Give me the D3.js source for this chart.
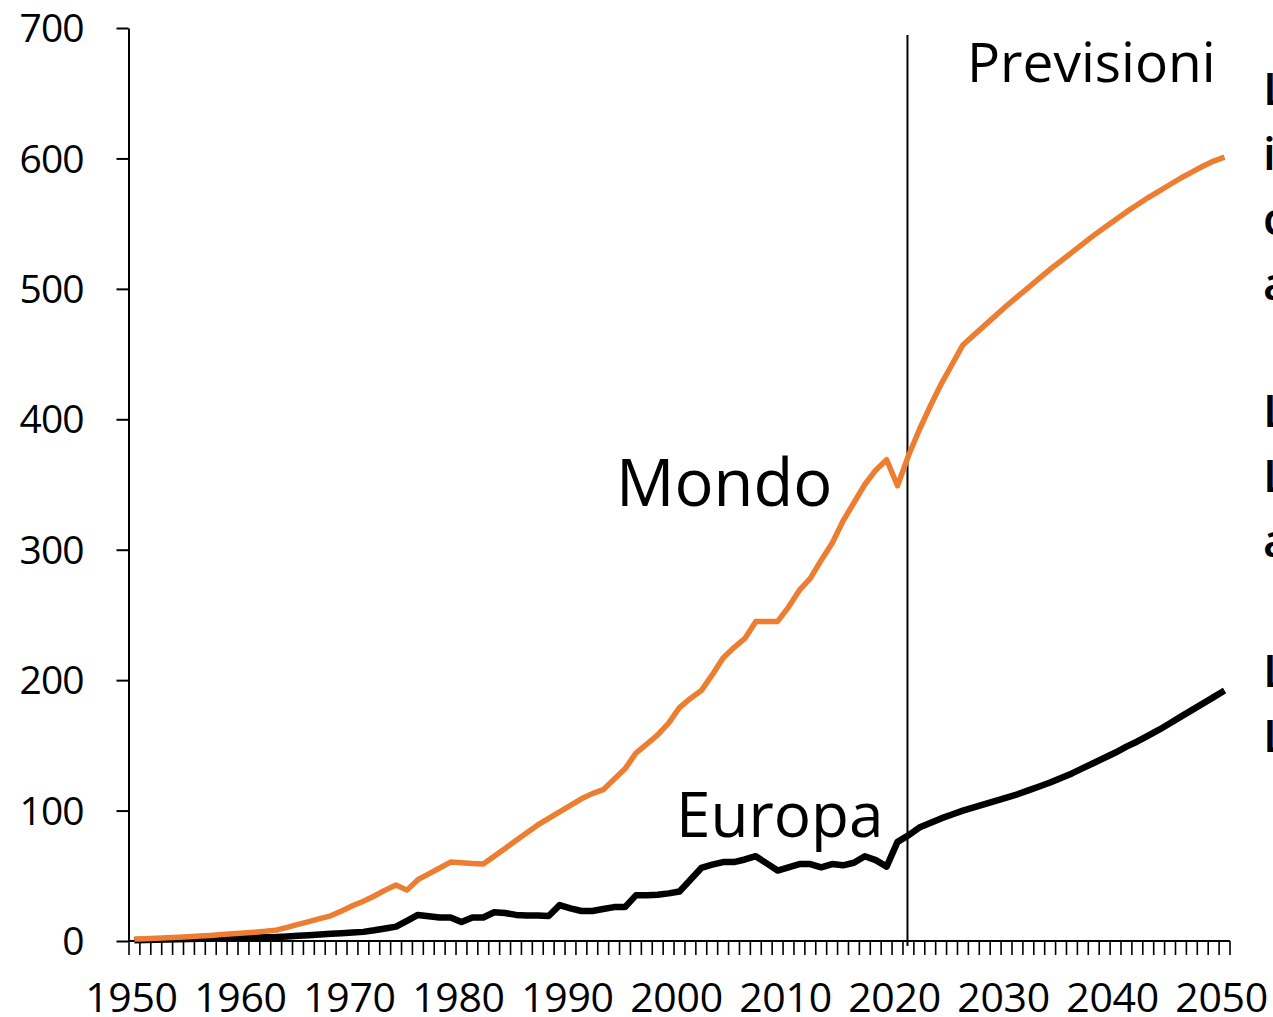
<!DOCTYPE html>
<meta charset="utf-8">
<head>
<style type="text/css">
  body { margin: 0; background: #fff; }
  svg { display: block; font-family: "Open Sans", sans-serif; }
  .axis line, .axis path { stroke: #000; }
</style>
</head>
<body>
<div id="vis"></div>
<script src="https://d3js.org/d3.v7.min.js"></script>
<script>
// data
var years = d3.range(1950, 2051);
var mondo = [
  1.5, 1.8, 2.1, 2.5, 2.9, 3.3, 3.8, 4.3, 4.9, 5.5,
  6.1, 6.7, 7.4, 8.3, 10.5, 12.7, 14.9, 17.1, 19.3, 23,
  27, 30.5, 34.5, 39, 43, 39, 47, 51.5, 56, 60.5,
  60, 59.5, 59, 65, 71, 77, 83, 89, 94, 99,
  104, 109, 113, 116, 124, 132, 144, 151, 158, 167,
  179, 186, 192, 204, 217, 225, 232, 245, 245, 245,
  256, 269, 278, 292, 305, 322, 336, 350, 361, 369,
  349, 372, 392, 410, 427, 442, 457, 464.5, 472, 479.5,
  487, 494, 501, 508, 515, 521.5, 528, 534.5, 541, 547,
  553, 559, 564.5, 570, 575, 580, 585, 589.5, 594, 598,
  601
];
var europa = [
  0.5, 0.7, 0.9, 1.1, 1.3, 1.5, 1.7, 1.9, 2.1, 2.3,
  2.5, 2.7, 2.9, 3.1, 3.5, 4, 4.5, 5, 5.5, 6,
  6.5, 7, 8.2, 9.6, 11, 15.5, 20, 19, 18, 18,
  14.5, 18, 18, 22, 21.5, 20, 19.5, 19.5, 19.2, 27.5,
  25, 23, 23, 24.5, 26, 26, 35, 35, 35.5, 36.5,
  38, 47, 56, 58.5, 60.5, 60.5, 62.5, 65, 59.5, 54,
  56.5, 59, 59, 56.5, 59, 58, 60, 65, 62, 57,
  76, 81, 87, 90.5, 94, 97, 100, 102.5, 105, 107.5,
  110, 112.5, 115.5, 118.5, 121.5, 125, 128.5, 132.5, 136.5, 140.5,
  144.5, 149, 153, 157.5, 162, 167, 172, 177, 182, 187,
  192
];
var yTicks = [0, 100, 200, 300, 400, 500, 600, 700];
var xLabelYears = [1950, 1960, 1970, 1980, 1990, 2000, 2010, 2020, 2030, 2040, 2050];
var forecastStart = 2021;
// text cut off at the right edge of the slide
var sideLetters = ["L", "i", "c", "a", "L", "L", "a", "L", "L"];
var sideBaselines = [105, 170, 235, 300, 427, 492, 557, 687, 752];

var width = 1273, height = 1017;
var svg = d3.select("#vis").append("svg")
    .attr("width", width)
    .attr("height", height);

// ranges
var x = d3.scaleBand()
    .domain(years)
    .range([129, 1230])
    .padding(0);
var y = d3.scaleLinear()
    .domain([0, 700])
    .range([941, 28]);

function cx(yr) { return x(yr) + x.bandwidth() / 2; }

// y axis
var yAxis = svg.append("g")
    .attr("class", "axis")
    .attr("transform", "translate(128.5,0)")
    .call(d3.axisLeft(y).tickValues(yTicks).tickSize(12).tickSizeOuter(0).tickPadding(33));
yAxis.select(".domain").attr("stroke-width", 2);
yAxis.selectAll(".tick line").attr("stroke-width", 2);
yAxis.selectAll(".tick text")
    .attr("font-size", "39px")
    .attr("font-family", "Open Sans")
    .attr("letter-spacing", "-1px")
    .attr("fill", "#000")
    .attr("dy", "0.35em");

// x axis: ticks between categories like Excel
var xAxis = svg.append("g").attr("class", "axis");
xAxis.append("line")
    .attr("x1", 128).attr("x2", x.range()[1])
    .attr("y1", y(0)).attr("y2", y(0))
    .attr("stroke", "#000").attr("stroke-width", 2);
var bounds = years.map(function(d) { return x(d); }).concat([x.range()[1]]);
xAxis.selectAll(".xtick").data(bounds).enter().append("line")
    .attr("class", "xtick")
    .attr("x1", function(d) { return d; })
    .attr("x2", function(d) { return d; })
    .attr("y1", y(0))
    .attr("y2", y(0) + 14)
    .attr("stroke", "#000").attr("stroke-width", 1.6);
xAxis.selectAll(".xlabel").data(xLabelYears).enter().append("text")
    .attr("class", "xlabel")
    .attr("x", function(d) { return cx(d) - 3; })
    .attr("y", 1012)
    .attr("text-anchor", "middle")
    .attr("font-size", "41px")
    .attr("letter-spacing", "-0.3px")
    .attr("fill", "#000")
    .text(function(d) { return d; });

// forecast divider
svg.append("line")
    .attr("x1", x(forecastStart) + 4.5).attr("x2", x(forecastStart) + 4.5)
    .attr("y1", 35).attr("y2", y(0) + 5)
    .attr("stroke", "#000").attr("stroke-width", 2);

// lines
var line = d3.line()
    .x(function(d) { return cx(d.year); })
    .y(function(d) { return y(d.v); });

function toPts(arr) {
  return years.map(function(yr, i) { return {year: yr, v: arr[i]}; });
}

svg.append("path")
    .datum(toPts(europa))
    .attr("fill", "none")
    .attr("stroke", "#000")
    .attr("stroke-width", 6.5)
    .attr("stroke-linejoin", "round")
    .attr("d", line);

svg.append("path")
    .datum(toPts(mondo))
    .attr("fill", "none")
    .attr("stroke", "#ED7D31")
    .attr("stroke-width", 5.5)
    .attr("stroke-linejoin", "round")
    .attr("d", line);

// labels
svg.append("text")
    .attr("x", 616).attr("y", 506)
    .attr("font-size", "65px")
    .attr("fill", "#000")
    .text("Mondo");
svg.append("text")
    .attr("x", 676).attr("y", 837)
    .attr("font-size", "62px")
    .attr("fill", "#000")
    .text("Europa");
svg.append("text")
    .attr("x", 967).attr("y", 82)
    .attr("font-size", "55px")
    .attr("fill", "#000")
    .text("Previsioni");

svg.selectAll(".side").data(sideLetters).enter().append("text")
    .attr("class", "side")
    .attr("x", 1263)
    .attr("y", function(d, i) { return sideBaselines[i]; })
    .attr("font-size", "46px")
    .attr("font-weight", 600)
    .attr("fill", "#000")
    .text(function(d) { return d; });
</script>
</body>
